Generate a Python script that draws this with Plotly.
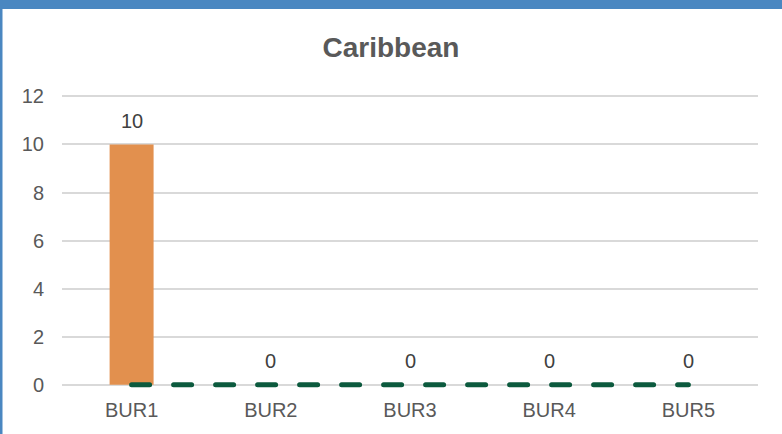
import plotly.graph_objects as go

categories = ["BUR1", "BUR2", "BUR3", "BUR4", "BUR5"]
bar_values = [10, 0, 0, 0, 0]
line_values = [0, 0, 0, 0, 0]
y_ticks = [0, 2, 4, 6, 8, 10, 12]

W, H = 782, 434
L, R, T, B = 62, 24, 94, 46
pw, ph = W - L - R, H - T - B

def px_x(x):
    return (x - L) / pw

def px_y(y):
    return (H - B - y) / ph

FONT = "Liberation Sans, Arial"
GREY = "#595959"

fig = go.Figure()
fig.add_trace(go.Bar(
    x=categories, y=bar_values,
    marker=dict(color="#E2904E", line=dict(width=0)),
    showlegend=False, hoverinfo="skip",
))
fig.add_trace(go.Scatter(
    x=categories, y=line_values, mode="lines",
    line=dict(color="#0C5A3E", width=5, dash="18px,24px"),
    showlegend=False, hoverinfo="skip",
))

annotations = [
    dict(x=c, y=v, xref="x", yref="y", text=str(v), showarrow=False,
         yanchor="bottom", yshift=10.5, font=dict(family=FONT, size=20, color="#404040"))
    for c, v in zip(categories, bar_values)
]

blue = "#4A87C1"
fig.update_layout(
    width=W, height=H,
    margin=dict(l=L, r=R, t=T, b=B, pad=0, autoexpand=False),
    paper_bgcolor="white", plot_bgcolor="white",
    bargap=0.684,
    title=dict(text="<b>Caribbean</b>", x=0.5, xanchor="center", y=1 - 47.5 / H, yanchor="middle",
               font=dict(family=FONT, size=28, color=GREY)),
    xaxis=dict(showgrid=False, showline=False, zeroline=False, automargin=False,
               tickfont=dict(family=FONT, size=20, color=GREY),
               ticks="outside", ticklen=4, tickcolor="rgba(0,0,0,0)"),
    yaxis=dict(range=[-0.13, 12.1], tickvals=y_ticks, showgrid=True, gridcolor="#D9D9D9", gridwidth=1.5,
               zeroline=True, zerolinecolor="#D9D9D9", zerolinewidth=1.5, showline=False, automargin=False,
               tickfont=dict(family=FONT, size=20, color=GREY),
               ticks="outside", ticklen=13, tickcolor="rgba(0,0,0,0)"),
    annotations=annotations,
    shapes=[
        dict(type="rect", xref="paper", yref="paper", x0=px_x(0), x1=px_x(W), y0=px_y(0), y1=px_y(9),
             fillcolor=blue, line=dict(width=0), layer="above"),
        dict(type="rect", xref="paper", yref="paper", x0=px_x(0), x1=px_x(2.5), y0=px_y(0), y1=px_y(H),
             fillcolor=blue, line=dict(width=0), layer="above"),
    ],
)

post = """
document.body.style.margin = '0';
document.body.style.overflow = 'hidden';
document.querySelectorAll('.scatterlayer .js-line').forEach(function(p){ p.style.strokeLinecap = 'round'; });
"""

fig.write_html("out.html", post_script=post, config={"displayModeBar": False})
